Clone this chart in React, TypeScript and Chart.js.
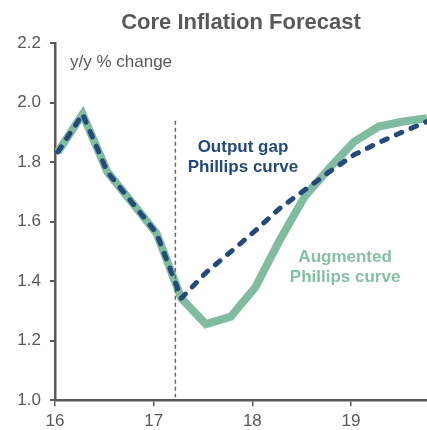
import React, { useEffect, useRef } from "react";
import { Chart, registerables } from "chart.js";

Chart.register(...registerables);

// ---- data ----
const quarterX = [16.03, 16.28, 16.53, 16.78, 17.03, 17.28, 17.53, 17.78, 18.03, 18.28, 18.53, 18.78, 19.03, 19.28, 19.53, 19.77];
const augmentedPC = [1.835, 1.962, 1.768, 1.665, 1.561, 1.343, 1.256, 1.281, 1.38, 1.54, 1.685, 1.78, 1.869, 1.92, 1.937, 1.948];
const outputGapPC = [1.835, 1.962, 1.768, 1.665, 1.561, 1.343, 1.429, 1.499, 1.57, 1.646, 1.707, 1.768, 1.825, 1.866, 1.903, 1.937];
const forecastStartX = [17.22, 17.22];
const forecastStartY = [1.94, 1.01];
const xTicks = [16, 17, 18, 19];
const xTickLabels = ["16", "17", "18", "19"];
const yMin = 1.0;
const yMax = 2.2;
const yStep = 0.2;
const xMin = 16;
const xMax = 19.77;

const title = "Core Inflation Forecast";
const unitLabel = "y/y % change";
const outputGapLabel = ["Output gap", "Phillips curve"];
const augmentedLabel = ["Augmented", "Phillips curve"];

// ---- styles ----
const FONT = '"Liberation Sans", Arial, Helvetica, sans-serif';
const GRAY = "#595959";
const NAVY = "#244a7c";
const GREEN = "#80bc9f";
const GREEN_TEXT = "#84c1a2";

const textPlugin = {
  id: "textPlugin",
  afterDraw(chart: any) {
    const { ctx, chartArea, scales } = chart;
    const xs = scales.x;
    const ys = scales.y;
    ctx.save();
    ctx.fillStyle = GRAY;
    ctx.font = `bold 22px ${FONT}`;
    ctx.textAlign = "center";
    ctx.textBaseline = "alphabetic";
    ctx.fillText(title, (chartArea.left + chartArea.right) / 2, 29);
    ctx.font = `17px ${FONT}`;
    ctx.textAlign = "left";
    ctx.fillText(unitLabel, chartArea.left + 15, 67);
    ctx.font = `bold 17px ${FONT}`;
    ctx.textAlign = "center";
    ctx.fillStyle = NAVY;
    const ox = xs.getPixelForValue(17.905);
    const oy = ys.getPixelForValue(1.835);
    outputGapLabel.forEach((t, i) => ctx.fillText(t, ox, oy + i * 20));
    ctx.fillStyle = GREEN_TEXT;
    const ax = xs.getPixelForValue(18.94);
    const ay = ys.getPixelForValue(1.466);
    augmentedLabel.forEach((t, i) => ctx.fillText(t, ax, ay + i * 20));
    ctx.restore();
  },
};

export default function App() {
  const ref = useRef<HTMLCanvasElement>(null);
  useEffect(() => {
    if (!ref.current) return;
    const chart = new Chart(ref.current, {
      type: "line",
      data: {
        datasets: [
          {
            label: "Output gap Phillips curve",
            data: quarterX.map((x, i) => ({ x, y: outputGapPC[i] })),
            borderColor: NAVY,
            borderWidth: 5,
            borderDash: [6, 10],
            borderCapStyle: "round",
            borderJoinStyle: "round",
            pointRadius: 0,
            tension: 0,
            fill: false,
          },
          {
            label: "Forecast start",
            data: forecastStartX.map((x, i) => ({ x, y: forecastStartY[i] })),
            borderColor: "#666666",
            borderWidth: 1.5,
            borderDash: [4, 3],
            pointRadius: 0,
            tension: 0,
            fill: false,
          },
          {
            label: "Augmented Phillips curve",
            data: quarterX.map((x, i) => ({ x, y: augmentedPC[i] })),
            borderColor: GREEN,
            borderWidth: 8,
            borderJoinStyle: "miter",
            pointRadius: 0,
            tension: 0,
            fill: false,
          },
        ],
      } as any,
      options: {
        responsive: false,
        animation: false,
        layout: { padding: { top: 43.3, left: 0, right: 0, bottom: 0 } },
        plugins: {
          legend: { display: false },
          title: { display: false },
          tooltip: { enabled: false },
        },
        scales: {
          x: {
            type: "linear",
            min: xMin,
            max: xMax,
            afterBuildTicks: (s: any) => {
              s.ticks = xTicks.map((v) => ({ value: v }));
            },
            afterFit: (s: any) => {
              s.height = 29.7;
            },
            ticks: {
              color: GRAY,
              font: { family: FONT, size: 17 },
              padding: 5,
              maxRotation: 0,
              callback: (v: any) => {
                const i = xTicks.indexOf(Number(v));
                return i >= 0 ? xTickLabels[i] : "";
              },
            },
            grid: {
              drawOnChartArea: false,
              drawTicks: true,
              tickLength: 6,
              color: GRAY,
              lineWidth: 1.5,
            },
            border: { display: true, color: GRAY, width: 2.5 },
          },
          y: {
            type: "linear",
            min: yMin,
            max: yMax,
            afterFit: (s: any) => {
              s.width = 55;
            },
            ticks: {
              stepSize: yStep,
              color: GRAY,
              font: { family: FONT, size: 17 },
              padding: 9,
              callback: (v: any) => Number(v).toFixed(1),
            },
            grid: {
              drawOnChartArea: false,
              drawTicks: true,
              tickLength: 5,
              color: GRAY,
              lineWidth: 2,
            },
            border: { display: true, color: GRAY, width: 2.5 },
          },
        },
      } as any,
      plugins: [textPlugin],
    });
    return () => chart.destroy();
  }, []);
  return (
    <div style={{ position: "fixed", left: 0, top: 0, width: 427, height: 430, background: "#fff" }}>
      <canvas ref={ref} width={427} height={430} style={{ display: "block" }} />
    </div>
  );
}
